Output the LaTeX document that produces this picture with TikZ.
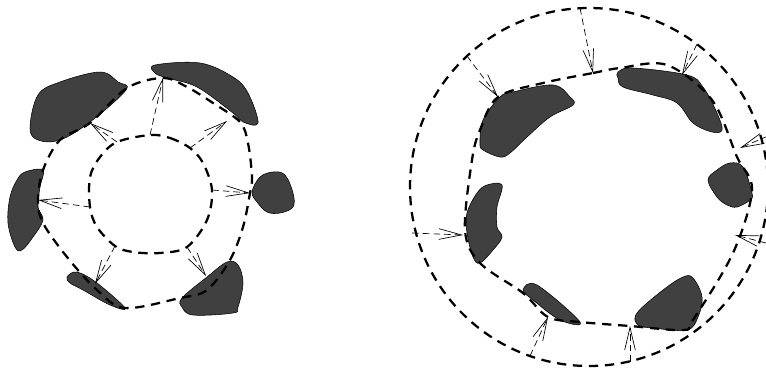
\documentclass[tikz,border=0pt]{standalone}
\usetikzlibrary{arrows.meta}
\definecolor{blob}{HTML}{404040}
\begin{document}
\begin{tikzpicture}[x=0.75pt,y=-0.75pt,
      cell/.style={draw=black,line width=.4pt,fill=blob},
      ring/.style={line width=1.7pt,dash pattern=on 7pt off 5pt},
      push/.style={line width=.5pt,dash pattern=on 5pt off 3pt,-{Straight Barb[length=17pt,width=8pt]}}]
  \useasboundingbox (0,0) rectangle (766,372);
  % left cluster: cells
  \draw[cell] plot[smooth cycle,tension=.6] coordinates {(30,128) (38,95) (60,82) (100,72) (118,82) (126,90) (90,122) (60,140) (38,140)};
  \draw[cell] plot[smooth cycle,tension=.6] coordinates {(155,65) (200,63) (233,77) (248,93) (258,123) (243,122) (233,113) (197,87) (167,78) (155,73)};
  \draw[cell] plot[smooth cycle,tension=.6] coordinates {(252,192) (260,177) (273,172) (285,175) (293,193) (293,207) (280,213) (267,212) (257,202)};
  \draw[cell] plot[smooth cycle,tension=.6] coordinates {(182,298) (207,277) (227,262) (238,265) (243,283) (238,307) (233,313) (193,315) (182,307)};
  \draw[cell] plot[smooth cycle,tension=.6] coordinates {(67,277) (77,272) (97,283) (125,308) (110,305) (83,290) (70,283)};
  \draw[cell] plot[smooth cycle,tension=.6] coordinates {(10,197) (17,180) (25,172) (43,170) (40,187) (38,207) (43,220) (33,237) (22,250) (15,247) (8,223)};
  % left cluster: rings
  \coordinate (li1) at (150,135); \coordinate (li2) at (190,148); \coordinate (li3) at (212,190);
  \coordinate (li4) at (187,247); \coordinate (li5) at (115,246); \coordinate (li6) at (90,207);
  \coordinate (li7) at (117,142);
  \coordinate (lo1) at (163,78); \coordinate (lo2) at (227,121); \coordinate (lo3) at (250,193);
  \coordinate (lo4) at (206,276); \coordinate (lo5) at (95,284); \coordinate (lo6) at (38,200);
  \coordinate (lo7) at (90,123);
  \draw[ring] plot[smooth cycle,tension=.55] coordinates {(li1) (170,138) (li2) (203,163) (li3) (207,220) (li4) (160,253) (133,252) (li5) (97,227) (li6) (90,177) (100,157) (li7)};
  \draw[ring] plot[smooth cycle,tension=.55] coordinates {(127,88) (lo1) (187,87) (213,103) (240,122) (248,143) (252,177) (lo3) (243,227) (230,260) (207,290) (180,298) (125,308) (97,290) (67,257) (43,223) (lo6) (43,170) (60,140) (lo7)};
  \foreach \i in {1,...,7}
    \draw[push] (li\i) -- (lo\i);
  % right cluster: cells
  \draw[cell] plot[smooth cycle,tension=.6] coordinates {(480,143) (483,120) (500,97) (513,92) (553,85) (570,97) (573,105) (550,117) (527,137) (510,153) (500,157) (483,150)};
  \draw[cell] plot[smooth cycle,tension=.6] coordinates {(618,72) (633,68) (687,75) (703,87) (717,113) (722,130) (712,132) (693,123) (677,103) (653,95) (623,87) (618,78)};
  \draw[cell] plot[smooth cycle,tension=.6] coordinates {(708,180) (717,170) (730,163) (743,167) (752,193) (750,200) (737,207) (727,205) (717,197)};
  \draw[cell] plot[smooth cycle,tension=.6] coordinates {(467,213) (477,193) (487,185) (502,185) (497,207) (497,227) (502,237) (493,250) (480,263) (473,257) (467,233)};
  \draw[cell] plot[smooth cycle,tension=.6] coordinates {(523,290) (537,285) (580,322) (560,320) (533,300)};
  \draw[cell] plot[smooth cycle,tension=.6] coordinates {(637,313) (663,290) (683,277) (693,278) (702,297) (698,317) (687,330) (653,328) (638,325)};
  % right cluster: rings
  \coordinate (ro1) at (580,8); \coordinate (ro2) at (467,56); \coordinate (ro3) at (697,44);
  \coordinate (ro4) at (768,136); \coordinate (ro5) at (766,243); \coordinate (ro6) at (412,233);
  \coordinate (ro7) at (530,356); \coordinate (ro8) at (630,362);
  \coordinate (ri1) at (593,73); \coordinate (ri2) at (498,97); \coordinate (ri3) at (682,75);
  \coordinate (ri4) at (740,148); \coordinate (ri5) at (735,235); \coordinate (ri6) at (463,235);
  \coordinate (ri7) at (548,317); \coordinate (ri8) at (630,326);
  \draw[ring] (589,187) circle (179);
  \draw[ring] plot[smooth cycle,tension=.55] coordinates {(543,83) (ri1) (620,68) (667,65) (712,100) (737,157) (752,190) (733,253) (693,320) (683,330) (ri8) (580,322) (ri7) (523,293) (480,263) (465,230) (472,160) (480,130) (ri2)};
  \foreach \i in {1,...,8}
    \draw[push] (ro\i) -- (ri\i);
\end{tikzpicture}
\end{document}
